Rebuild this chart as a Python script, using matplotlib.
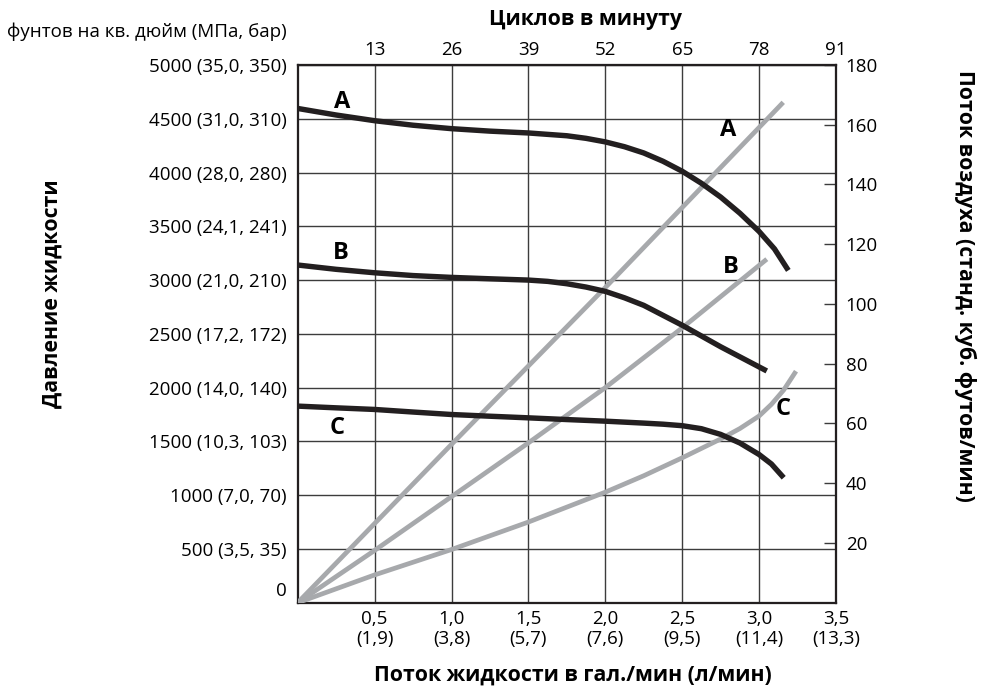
import matplotlib
matplotlib.use('Agg')
import matplotlib.pyplot as plt
from matplotlib.transforms import ScaledTranslation

plt.rcParams['font.family'] = ['Open Sans', 'DejaVu Sans']

# ---------------- data ----------------
flow_ticks = [0.5, 1.0, 1.5, 2.0, 2.5, 3.0, 3.5]
flow_tick_labels = ['0,5\n(1,9)', '1,0\n(3,8)', '1,5\n(5,7)', '2,0\n(7,6)',
                    '2,5\n(9,5)', '3,0\n(11,4)', '3,5\n(13,3)']
pressure_ticks = [0, 500, 1000, 1500, 2000, 2500, 3000, 3500, 4000, 4500, 5000]
pressure_tick_labels = ['0', '500 (3,5, 35)', '1000 (7,0, 70)', '1500 (10,3, 103)',
                        '2000 (14,0, 140)', '2500 (17,2, 172)', '3000 (21,0, 210)',
                        '3500 (24,1, 241)', '4000 (28,0, 280)', '4500 (31,0, 310)',
                        '5000 (35,0, 350)']
cycle_ticks = [13, 26, 39, 52, 65, 78, 91]
air_ticks = [20, 40, 60, 80, 100, 120, 140, 160, 180]

# fluid pressure curves (psi) vs fluid flow (gpm)
press_A_flow = [0, 0.25, 0.5, 0.75, 1.0, 1.25, 1.5, 1.75, 1.875, 2.0, 2.125, 2.25, 2.375,
                2.5, 2.625, 2.75, 2.875, 3.0, 3.1, 3.19]
press_A_psi = [4596, 4535, 4482, 4440, 4408, 4385, 4368, 4342, 4318, 4285, 4240, 4182, 4105,
               4012, 3900, 3772, 3622, 3452, 3290, 3090]
press_B_flow = [0, 0.25, 0.5, 0.75, 1.0, 1.25, 1.5, 1.625, 1.75, 1.875, 2.0, 2.125, 2.25,
                2.5, 2.75, 3.05]
press_B_psi = [3140, 3100, 3068, 3042, 3025, 3012, 3000, 2988, 2966, 2935, 2895, 2835, 2765,
               2580, 2380, 2155]
press_C_flow = [0, 0.25, 0.5, 0.75, 1.0, 1.25, 1.5, 1.75, 2.0, 2.25, 2.375, 2.5, 2.625,
                2.75, 2.875, 3.0, 3.08, 3.16]
press_C_psi = [1828, 1812, 1797, 1773, 1750, 1734, 1719, 1703, 1688, 1670, 1660, 1646, 1618,
               1565, 1485, 1378, 1290, 1162]

# air consumption curves (scfm) vs fluid flow (gpm)
air_A_flow = [0, 1.0, 2.0, 3.157]
air_A_scfm = [0, 53, 105.5, 167.5]
air_B_flow = [0, 0.5, 1.0, 1.5, 2.0, 2.5, 3.05]
air_B_scfm = [0, 17.5, 35.5, 53.5, 72, 92, 115]
air_C_flow = [0, 0.5, 1.0, 1.5, 2.0, 2.25, 2.5, 2.75, 2.875, 3.0, 3.08, 3.16, 3.24]
air_C_scfm = [0, 9.3, 17.8, 27, 37, 42.5, 48.5, 54.8, 58.3, 62.5, 66.4, 71.2, 77.5]

# curve labels (flow, pressure)
label_text = ['A', 'A', 'B', 'B', 'C', 'C']
label_x = [0.288, 2.798, 0.282, 2.818, 0.256, 3.156]
label_y = [4656, 4396, 3252, 3122, 1624, 1801]

# ---------------- figure ----------------
W, H = 981, 689
fig = plt.figure(figsize=(W / 100, H / 100), dpi=100)
L, R, T, B = 297.7, 836.0, 65.0, 602.7
ax = fig.add_axes([L / W, 1 - B / H, (R - L) / W, (B - T) / H])

dark = '#231f20'
gray = '#a7a9ac'
gridc = '#3c3c3c'
tick_fs = 13.5
lab_fs = 15.3

ax.set_xlim(0, 3.5)
ax.set_ylim(0, 5000)
ax.set_xticks(flow_ticks)
ax.set_xticklabels(flow_tick_labels, fontsize=tick_fs, linespacing=1.15)
ax.set_yticks(pressure_ticks)
ax.set_yticklabels(pressure_tick_labels, fontsize=tick_fs)
ax.tick_params(axis='both', length=0, colors='black')
ax.tick_params(axis='x', pad=5)
ax.tick_params(axis='y', pad=8)
ax.grid(True, color=gridc, linewidth=1.0)
for s in ax.spines.values():
    s.set_linewidth(1.5)
    s.set_color(dark)

# raise the "0" label
lbl0 = ax.get_yticklabels()[0]
lbl0.set_transform(lbl0.get_transform() + ScaledTranslation(0, 10 / 72, fig.dpi_scale_trans))

# top axis (cycles)
ax3 = ax.twiny()
ax3.set_xlim(0, 91)
ax3.set_xticks(cycle_ticks)
ax3.set_xticklabels([str(c) for c in cycle_ticks], fontsize=tick_fs)
ax3.tick_params(axis='x', length=0, pad=4)
ax3.set_xlabel('Циклов в минуту', fontsize=lab_fs, fontweight='bold', va='center')
ax3.xaxis.set_label_coords((585 - L) / (R - L), (B - 20) / (B - T))

# right axis (air)
ax2 = ax.twinx()
ax2.set_ylim(0, 180)
ax2.set_yticks(air_ticks)
ax2.set_yticklabels([str(a) for a in air_ticks], fontsize=tick_fs)
ax2.tick_params(axis='y', direction='in', length=8.5, width=1.0, color=gridc, pad=7)
for s in list(ax2.spines.values()) + list(ax3.spines.values()):
    s.set_linewidth(1.5)
    s.set_color(dark)

# gray air curves
for fx, fy in [(air_A_flow, air_A_scfm), (air_B_flow, air_B_scfm), (air_C_flow, air_C_scfm)]:
    ax2.plot(fx, fy, color=gray, linewidth=3.4, solid_capstyle='butt',
             solid_joinstyle='round', zorder=3)

# black pressure curves drawn on top
for fx, fy in [(press_A_flow, press_A_psi), (press_B_flow, press_B_psi), (press_C_flow, press_C_psi)]:
    ax2.plot(fx, fy, color=dark, linewidth=3.9, solid_capstyle='butt',
             solid_joinstyle='round', transform=ax.transData, zorder=4)

for t, x, y in zip(label_text, label_x, label_y):
    ax2.text(x, y, t, transform=ax.transData, fontsize=17, fontweight='bold',
             color='black', ha='center', va='center', zorder=5)

# axis labels
ax.set_xlabel('Поток жидкости в гал./мин (л/мин)', fontsize=lab_fs, fontweight='bold',
              va='center')
ax.xaxis.set_label_coords((573 - L) / (R - L), (B - 675) / (B - T))
ax.set_ylabel('Давление жидкости', fontsize=lab_fs, fontweight='bold',
              va='center', ha='center')
ax.yaxis.set_label_coords((52 - L) / (R - L), (B - 293.5) / (B - T))
ax2.set_ylabel('Поток воздуха (станд. куб. футов/мин)', fontsize=lab_fs,
               fontweight='bold', rotation=270, va='center', ha='center')
ax2.yaxis.set_label_coords((965 - L) / (R - L), (B - 286) / (B - T))

fig.text(287 / W, 1 - 32 / H, 'фунтов на кв. дюйм (МПа, бар)', ha='right',
         va='center', fontsize=tick_fs)

fig.savefig('out.png', dpi=100)
